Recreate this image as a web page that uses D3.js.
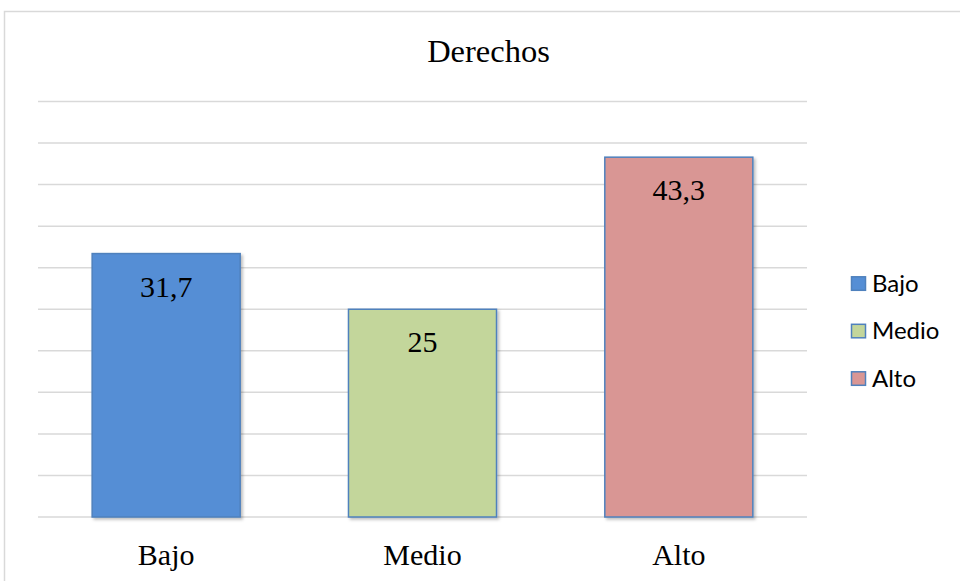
<!DOCTYPE html>
<html>
    <head>
        <meta charset="UTF-8">
        <title>Derechos</title>
        <script src="https://d3js.org/d3.v7.min.js"></script>
        <style>
            body { margin: 0; background: #fff; }
        </style>
    </head>
    <body>
        <div id="chart"></div>
        <script>
            // data
            var categories = ["Bajo", "Medio", "Alto"];
            var values = [31.7, 25, 43.3];
            var valueLabels = ["31,7", "25", "43,3"];
            var fills = ["#558ED5", "#C3D69B", "#D99694"];
            var gridTicks = [0, 5, 10, 15, 20, 25, 30, 35, 40, 45, 50];

            var W = 960, H = 581;
            var plot = {left: 38, right: 807, top: 101.5, bottom: 517};

            var svg = d3.select("#chart")
                .append("svg")
                .attr("width", W)
                .attr("height", H);

            // drop shadow like the excel bars
            var defs = svg.append("defs");
            var f = defs.append("filter").attr("id", "shadow")
                .attr("x", "-10%").attr("y", "-10%").attr("width", "130%").attr("height", "130%");
            f.append("feDropShadow")
                .attr("dx", 2).attr("dy", 2).attr("stdDeviation", 1.5)
                .attr("flood-color", "#000").attr("flood-opacity", 0.25);

            // outer chart border
            svg.append("path")
                .attr("d", "M4.5," + H + "V11.5H" + W)
                .attr("fill", "none")
                .attr("stroke", "#d9d9d9")
                .attr("stroke-width", 1.5);

            var x = d3.scaleBand()
                .domain(categories)
                .range([plot.left, plot.right])
                .paddingInner(0.4225)
                .paddingOuter(0.4225 / 2);

            var y = d3.scaleLinear()
                .domain([0, 50])
                .range([plot.bottom, plot.top]);

            // gridlines
            svg.append("g")
                .selectAll("line")
                .data(gridTicks)
                .enter()
                .append("line")
                .attr("x1", plot.left)
                .attr("x2", plot.right)
                .attr("y1", function(d) { return y(d); })
                .attr("y2", function(d) { return y(d); })
                .attr("stroke", "#d9d9d9")
                .attr("stroke-width", 1.5);

            // bars
            svg.append("g")
                .selectAll("rect")
                .data(values)
                .enter()
                .append("rect")
                .attr("x", function(d, i) { return x(categories[i]); })
                .attr("y", function(d) { return y(d); })
                .attr("width", x.bandwidth())
                .attr("height", function(d) { return y(0) - y(d); })
                .attr("fill", function(d, i) { return fills[i]; })
                .attr("stroke", "#4F81BD")
                .attr("stroke-width", 1.5)
                .attr("filter", "url(#shadow)");

            // value labels inside the bars
            svg.append("g")
                .selectAll("text")
                .data(values)
                .enter()
                .append("text")
                .attr("x", function(d, i) { return x(categories[i]) + x.bandwidth() / 2; })
                .attr("y", function(d) { return y(d) + 43; })
                .attr("text-anchor", "middle")
                .attr("font-family", "'Liberation Serif', 'Times New Roman', serif")
                .attr("font-size", 30)
                .attr("fill", "#000")
                .text(function(d, i) { return valueLabels[i]; });

            // category axis labels
            var xAxis = svg.append("g")
                .attr("transform", "translate(0," + plot.bottom + ")")
                .call(d3.axisBottom(x).tickSize(0).tickPadding(0));
            xAxis.select(".domain").remove();
            xAxis.selectAll("text")
                .attr("dy", null)
                .attr("y", 48)
                .attr("font-family", "'Liberation Serif', 'Times New Roman', serif")
                .attr("font-size", 30)
                .attr("fill", "#000");

            // title
            svg.append("text")
                .attr("x", 488.5)
                .attr("y", 62)
                .attr("text-anchor", "middle")
                .attr("font-family", "'Liberation Serif', 'Times New Roman', serif")
                .attr("font-size", 32.5)
                .attr("fill", "#000")
                .text("Derechos");

            // legend
            var legend = svg.append("g")
                .selectAll("g")
                .data(categories)
                .enter()
                .append("g")
                .attr("transform", function(d, i) { return "translate(851," + (283.3 + i * 47.5) + ")"; });
            legend.append("rect")
                .attr("x", 0.5)
                .attr("y", -6.5)
                .attr("width", 14)
                .attr("height", 13.5)
                .attr("fill", function(d, i) { return fills[i]; })
                .attr("stroke", "#4F81BD")
                .attr("stroke-width", 1.5);
            legend.append("text")
                .attr("x", 21)
                .attr("y", 8.5)
                .attr("font-family", "Lato, 'Open Sans', sans-serif")
                .attr("font-size", 24)
                .attr("fill", "#000")
                .text(function(d) { return d; });
        </script>
    </body>
</html>
